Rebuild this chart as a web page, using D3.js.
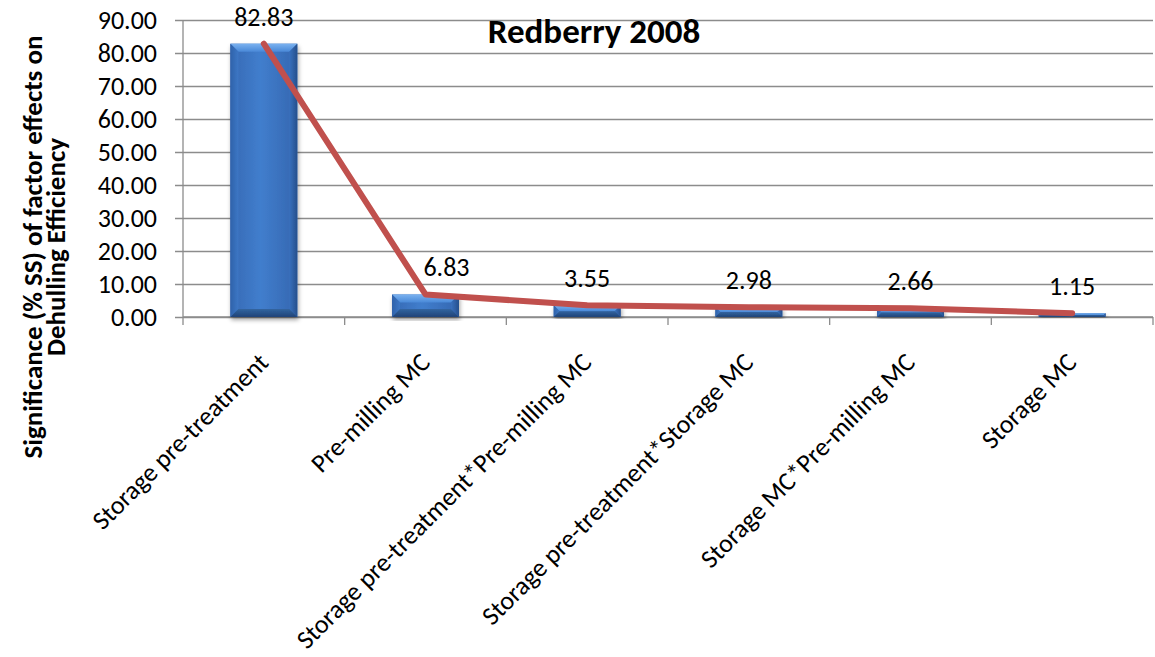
<!DOCTYPE html>
<html>
<head>
<meta charset="utf-8">
<script src="https://cdn.jsdelivr.net/npm/d3@7"></script>
<style>
  html, body { margin: 0; padding: 0; background: #ffffff; }
  svg { display: block; }
  text { font-family: Carlito, Calibri, Lato, "Open Sans", sans-serif; fill: #000; }
</style>
</head>
<body>
<svg id="chart" width="1155" height="657"></svg>
<script>
// Factors and their share of the sum of squares (%)
const factors = [
  "Storage pre-treatment",
  "Pre-milling MC",
  "Storage pre-treatment*Pre-milling MC",
  "Storage pre-treatment*Storage MC",
  "Storage MC*Pre-milling MC",
  "Storage MC"
];
const ssPercent = [82.83, 6.83, 3.55, 2.98, 2.66, 1.15];
const yTicks = [0, 10, 20, 30, 40, 50, 60, 70, 80, 90];
const chartTitle = "Redberry 2008";
const yTitleLines = ["Significance (% SS) of factor effects on", "Dehulling Efficiency"];

const svg = d3.select("#chart");
const plot = { left: 183, right: 1153, top: 20, bottom: 317 };

const x = d3.scaleBand()
  .domain(factors)
  .range([plot.left, plot.right])
  .paddingInner(0.586)
  .paddingOuter(0.293);

const y = d3.scaleLinear()
  .domain([0, 90])
  .range([plot.bottom, plot.top]);

const fmt = d3.format(".2f");
const gridColor = "#8c8c8c";

// defs: bar gradients and shadow
const defs = svg.append("defs");
function gradient(id, horizontal, stops) {
  const g = defs.append("linearGradient").attr("id", id)
    .attr("x1", "0").attr("y1", "0")
    .attr("x2", horizontal ? "1" : "0").attr("y2", horizontal ? "0" : "1");
  stops.forEach(([o, c]) => g.append("stop").attr("offset", o).attr("stop-color", c));
}
gradient("barFace", true, [["0%", "#3669b4"], ["45%", "#417ecd"], ["100%", "#3466b0"]]);
gradient("bevelTop", false, [["0%", "#7ab2f0"], ["100%", "#4a89d8"]]);
gradient("bevelLeft", true, [["0%", "#2f62aa"], ["100%", "#3d77c5"]]);
gradient("bevelRight", true, [["0%", "#3870bd"], ["100%", "#264f8c"]]);
gradient("bevelBottom", false, [["0%", "#32649f"], ["100%", "#1f4378"]]);

const shadow = defs.append("filter").attr("id", "barShadow")
  .attr("x", "-20%").attr("y", "-5%").attr("width", "150%").attr("height", "120%");
shadow.append("feDropShadow")
  .attr("dx", 1).attr("dy", 3).attr("stdDeviation", 2)
  .attr("flood-color", "#000").attr("flood-opacity", 0.35);

// horizontal gridlines with outward ticks on the left
const yAxis = d3.axisLeft(y)
  .tickValues(yTicks)
  .tickSize(-(plot.right - plot.left))
  .tickPadding(26)
  .tickFormat(fmt);

const gy = svg.append("g")
  .attr("transform", `translate(${plot.left},0)`)
  .call(yAxis);
gy.select(".domain").remove();
gy.selectAll(".tick line")
  .attr("x1", -8)
  .attr("stroke", gridColor)
  .attr("stroke-width", 1.3);
gy.selectAll(".tick text")
  .attr("font-size", 26)
  .attr("fill", "#000");

// vertical axis line
svg.append("line")
  .attr("x1", plot.left).attr("x2", plot.left)
  .attr("y1", plot.top).attr("y2", plot.bottom)
  .attr("stroke", gridColor).attr("stroke-width", 1.3);

// category axis: baseline plus ticks at band boundaries
const gx = svg.append("g");
gx.append("line")
  .attr("x1", plot.left).attr("x2", plot.right)
  .attr("y1", plot.bottom).attr("y2", plot.bottom)
  .attr("stroke", gridColor).attr("stroke-width", 1.3);
const boundaries = factors.map(f => x(f) - x.step() * x.paddingOuter()).concat([plot.right]);
gx.selectAll("line.tick")
  .data(boundaries)
  .join("line")
  .attr("class", "tick")
  .attr("x1", d => d).attr("x2", d => d)
  .attr("y1", plot.bottom).attr("y2", plot.bottom + 8)
  .attr("stroke", gridColor).attr("stroke-width", 1.3);

gx.selectAll("text.cat")
  .data(factors)
  .join("text")
  .attr("class", "cat")
  .attr("text-anchor", "end")
  .attr("font-size", 26)
  .attr("transform", d => `translate(${x(d) + x.bandwidth() / 2 + 6},${plot.bottom + 47}) rotate(-45)`)
  .text(d => d);

// bevelled bars
const bars = svg.append("g").attr("class", "bars");
factors.forEach((f, i) => {
  const v = ssPercent[i];
  const x0 = x(f), w = x.bandwidth();
  const y0 = y(v), h = y(0) - y(v);
  const b = Math.min(8, h / 2, w / 2);
  const g = bars.append("g").attr("filter", "url(#barShadow)");
  g.append("rect")
    .attr("x", x0).attr("y", y0).attr("width", w).attr("height", h)
    .attr("fill", "url(#barFace)");
  g.append("polygon")
    .attr("points", [[x0, y0], [x0 + w, y0], [x0 + w - b, y0 + b], [x0 + b, y0 + b]].join(" "))
    .attr("fill", "url(#bevelTop)");
  g.append("polygon")
    .attr("points", [[x0, y0], [x0 + b, y0 + b], [x0 + b, y0 + h - b], [x0, y0 + h]].join(" "))
    .attr("fill", "url(#bevelLeft)");
  g.append("polygon")
    .attr("points", [[x0 + w, y0], [x0 + w, y0 + h], [x0 + w - b, y0 + h - b], [x0 + w - b, y0 + b]].join(" "))
    .attr("fill", "url(#bevelRight)");
  g.append("polygon")
    .attr("points", [[x0, y0 + h], [x0 + b, y0 + h - b], [x0 + w - b, y0 + h - b], [x0 + w, y0 + h]].join(" "))
    .attr("fill", "url(#bevelBottom)");
});

// trend line through the same values
const line = d3.line()
  .x((d, i) => x(factors[i]) + x.bandwidth() / 2)
  .y(d => y(d));
svg.append("path")
  .datum(ssPercent)
  .attr("d", line)
  .attr("fill", "none")
  .attr("stroke", "#c0504d")
  .attr("stroke-width", 6)
  .attr("stroke-linecap", "round")
  .attr("stroke-linejoin", "round");

// value labels (the second one sits to the right of the steep segment)
svg.append("g").selectAll("text")
  .data(ssPercent)
  .join("text")
  .attr("text-anchor", "middle")
  .attr("font-size", 26)
  .attr("x", (d, i) => x(factors[i]) + x.bandwidth() / 2 + (i === 1 ? 21 : 0))
  .attr("y", d => y(d) - 18)
  .text(d => fmt(d));

// chart title
svg.append("text")
  .attr("x", 594).attr("y", 43)
  .attr("text-anchor", "middle")
  .attr("font-size", 35)
  .attr("font-weight", "bold")
  .text(chartTitle);

// y axis title (two lines)
const yt = svg.append("text")
  .attr("transform", "translate(0,247) rotate(-90)")
  .attr("text-anchor", "middle")
  .attr("font-size", 27)
  .attr("font-weight", "bold");
yTitleLines.forEach((t, i) => {
  yt.append("tspan").attr("x", 0).attr("y", 42 + i * 23).text(t);
});
</script>
</body>
</html>
